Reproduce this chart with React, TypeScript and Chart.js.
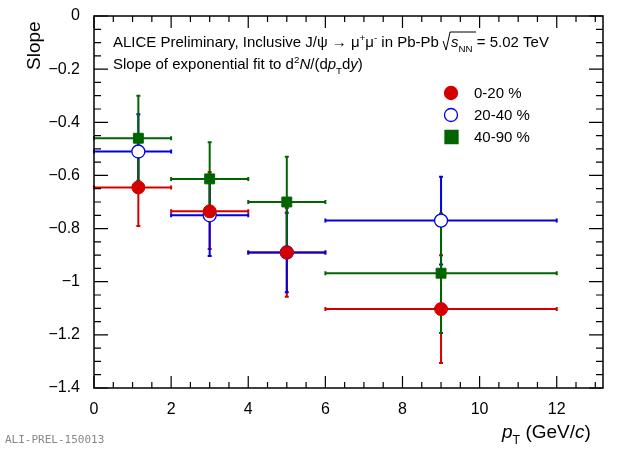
import React, { useEffect, useRef } from "react";
import { Chart, registerables } from "chart.js";
Chart.register(...registerables);

const seriesNames = ["0-20 %", "20-40 %", "40-90 %"];
const colors = ["#d40000", "#0000e0", "#006400"];
const xTickValues = [0, 2, 4, 6, 8, 10, 12];
const xCenters = [1.15, 3, 5, 9];
const xLow = [0, 2, 4, 6];
const xHigh = [2, 4, 6, 12];
const y020 = [-0.645, -0.735, -0.89, -1.103];
const lo020 = [-0.79, -0.877, -1.057, -1.306];
const hi020 = [-0.5, -0.587, -0.723, -0.9];
const y2040 = [-0.51, -0.75, -0.89, -0.77];
const lo2040 = [-0.65, -0.903, -1.04, -0.935];
const hi2040 = [-0.37, -0.597, -0.74, -0.605];
const y4090 = [-0.46, -0.613, -0.7, -0.968];
const lo4090 = [-0.62, -0.75, -0.87, -1.193];
const hi4090 = [-0.3, -0.475, -0.53, -0.743];

const ys = [y020, y2040, y4090];
const los = [lo020, lo2040, lo4090];
const his = [hi020, hi2040, hi4090];
const FONT = "Liberation Sans, Arial, sans-serif";

type Seg = { t: string; s?: "sub" | "sup" | "it" | "itsub" };
function rich(ctx: CanvasRenderingContext2D, segs: Seg[], x: number, y: number, size: number) {
  let cx = x;
  for (const g of segs) {
    let sz = size, dy = 0, it = false;
    if (g.s === "sub" || g.s === "itsub") { sz = size * 0.65; dy = size * 0.3; }
    if (g.s === "sup") { sz = size * 0.65; dy = -size * 0.4; }
    if (g.s === "it" || g.s === "itsub") it = true;
    ctx.font = `${it ? "italic " : ""}${sz}px ${FONT}`;
    ctx.fillText(g.t, cx, y + dy);
    cx += ctx.measureText(g.t).width;
  }
  return cx;
}

export default function App() {
  const ref = useRef<HTMLCanvasElement>(null);
  useEffect(() => {
    const pointStyles = ["circle", "circle", "rect"];
    const datasets = ys.map((arr, i) => ({
      label: seriesNames[i],
      data: arr.map((v, j) => ({ x: xCenters[j], y: v })),
      showLine: false,
      pointStyle: pointStyles[i] as any,
      pointRadius: i === 2 ? 7 : 6.5,
      pointBackgroundColor: i === 1 ? "#ffffff" : colors[i],
      pointBorderColor: colors[i],
      pointBorderWidth: i === 1 ? 1.3 : 1,
    }));
    const errPlugin = {
      id: "err",
      beforeDatasetsDraw(chart: any) {
        const { ctx, scales: { x, y } } = chart;
        ctx.save();
        ctx.lineWidth = 2;
        ys.forEach((arr, i) => {
          ctx.strokeStyle = colors[i];
          arr.forEach((v, j) => {
            const px = x.getPixelForValue(xCenters[j]);
            const py = y.getPixelForValue(v);
            const x0 = x.getPixelForValue(xLow[j]), x1 = x.getPixelForValue(xHigh[j]);
            const yl = y.getPixelForValue(los[i][j]), yh = y.getPixelForValue(his[i][j]);
            ctx.beginPath();
            ctx.moveTo(x0, py); ctx.lineTo(x1, py);
            ctx.moveTo(px, yl); ctx.lineTo(px, yh);
            ctx.moveTo(x0, py - 2); ctx.lineTo(x0, py + 2);
            ctx.moveTo(x1, py - 2); ctx.lineTo(x1, py + 2);
            ctx.moveTo(px - 2, yl); ctx.lineTo(px + 2, yl);
            ctx.moveTo(px - 2, yh); ctx.lineTo(px + 2, yh);
            ctx.stroke();
          });
        });
        ctx.restore();
      },
      afterDraw(chart: any) {
        const { ctx, chartArea: a, scales: { x, y } } = chart;
        ctx.save();
        ctx.strokeStyle = "#000"; ctx.lineWidth = 1.5;
        ctx.strokeRect(a.left, a.top, a.right - a.left, a.bottom - a.top);
        ctx.lineWidth = 1.2;
        ctx.beginPath();
        for (let v = 0; v <= 13.2; v += 0.5) {
          const px = x.getPixelForValue(v);
          const L = Math.abs(v % 2) < 1e-6 ? 12 : 6;
          ctx.moveTo(px, a.bottom); ctx.lineTo(px, a.bottom - L);
          ctx.moveTo(px, a.top); ctx.lineTo(px, a.top + L);
        }
        for (let k = 0; k <= 28; k++) {
          const v = -k * 0.05;
          const py = y.getPixelForValue(v);
          const L = k % 4 === 0 ? 14 : 7;
          ctx.moveTo(a.left, py); ctx.lineTo(a.left + L, py);
          ctx.moveTo(a.right, py); ctx.lineTo(a.right - L, py);
        }
        ctx.stroke();
        ctx.fillStyle = "#000";
        ctx.textBaseline = "alphabetic";
        let cx = rich(ctx, [{ t: "ALICE Preliminary, Inclusive J/ψ → μ" }, { t: "+", s: "sup" }, { t: "μ" }, { t: "-", s: "sup" }, { t: " in Pb-Pb " }], 113, 47, 15);
        ctx.lineWidth = 1;
        ctx.beginPath();
        ctx.moveTo(cx, 41); ctx.lineTo(cx + 3, 50); ctx.lineTo(cx + 7, 32); ctx.lineTo(cx + 33, 32);
        ctx.stroke();
        rich(ctx, [{ t: "s", s: "it" }, { t: "NN", s: "sub" }, { t: " = 5.02 TeV" }], cx + 8, 47, 15);
        rich(ctx, [{ t: "Slope of exponential fit to d" }, { t: "2", s: "sup" }, { t: "N", s: "it" }, { t: "/(d" }, { t: "p", s: "it" }, { t: "T", s: "sub" }, { t: "d" }, { t: "y", s: "it" }, { t: ")" }], 113, 69, 15);
        const ly = [93, 115, 137];
        ly.forEach((yy, i) => {
          ctx.fillStyle = i === 1 ? "#fff" : colors[i];
          ctx.strokeStyle = colors[i]; ctx.lineWidth = 1.3;
          ctx.beginPath();
          if (i === 2) ctx.rect(445, yy - 6.5, 13, 13); else ctx.arc(451, yy, 6.5, 0, Math.PI * 2);
          ctx.fill(); ctx.stroke();
          ctx.fillStyle = "#000";
          ctx.font = `15px ${FONT}`;
          ctx.fillText(seriesNames[i], 474, yy + 5);
        });
        ctx.save();
        ctx.translate(40, 70); ctx.rotate(-Math.PI / 2);
        ctx.font = `19px ${FONT}`; ctx.fillText("Slope", 0, 0);
        ctx.restore();
        rich(ctx, [{ t: "p", s: "it" }, { t: "T", s: "sub" }, { t: " (GeV/" }, { t: "c", s: "it" }, { t: ")" }], 502, 438, 19);
        ctx.fillStyle = "#888"; ctx.font = "11px DejaVu Sans Mono, monospace";
        ctx.fillText("ALI-PREL-150013", 5, 443);
        ctx.restore();
      },
    };
    const chart = new Chart(ref.current!, {
      type: "scatter",
      data: { datasets },
      plugins: [errPlugin],
      options: {
        animation: false, responsive: false,
        layout: { padding: { top: 16, right: 20, left: 0, bottom: 0 } },
        plugins: { legend: { display: false }, tooltip: { enabled: false } },
        scales: {
          x: {
            min: 0, max: 13.2,
            grid: { display: false }, border: { display: false },
            afterBuildTicks: (s: any) => { s.ticks = xTickValues.map((v) => ({ value: v })); },
            ticks: { autoSkip: false, maxRotation: 0, color: "#000", font: { size: 16, family: FONT }, padding: 4,
              callback: (v: any) => String(v) },
            afterFit: (s: any) => { s.height = 61; },
          },
          y: {
            min: -1.4, max: 0,
            grid: { display: false }, border: { display: false },
            ticks: { stepSize: 0.2, color: "#000", font: { size: 16, family: FONT }, padding: 6,
              callback: (v: any) => { const n = Math.round(Number(v) * 10) / 10; return n === 0 ? "0" : n === -1 ? "−1" : "−" + Math.abs(n).toFixed(1); } },
            afterFit: (s: any) => { s.width = 94; },
          },
        },
      },
    });
    return () => chart.destroy();
  }, []);
  return <canvas ref={ref} width={623} height={449} style={{ position: "fixed", left: 0, top: 0, width: 623, height: 449 }} />;
}
